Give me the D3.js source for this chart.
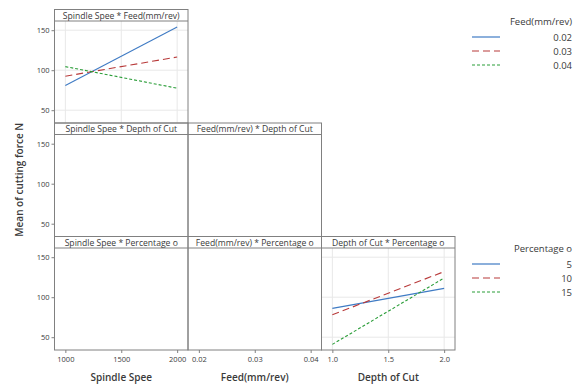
<!DOCTYPE html>
<html>
<head>
<meta charset="utf-8">
<script src="https://cdn.jsdelivr.net/npm/d3@7"></script>
<style>
  body { margin: 0; background: #fff; }
  text { font-family: "Open Sans", "Noto Sans", sans-serif; fill: #3a3a3a; }
</style>
</head>
<body>
<div id="container"></div>
<script>
/**
 * DATA
 * */
const factors = ["Spindle Spee", "Feed(mm/rev)", "Depth of Cut", "Percentage o"];
const factorLevels = [[1000, 2000], [0.02, 0.04], [1.0, 2.0]];
const factorTicks = [[1000, 1500, 2000], [0.02, 0.03, 0.04], [1.0, 1.5, 2.0]];
const tickFormats = [d3.format("d"), d3.format(".2f"), d3.format(".1f")];
const yTicks = [50, 100, 150];

// Spindle Spee * Feed(mm/rev)
const feedLevels = ["0.02", "0.03", "0.04"];
const speedByFeed = [[81, 154], [92.5, 116.5], [104.5, 77.5]];

// Depth of Cut * Percentage o
const pctLevels = ["5", "10", "15"];
const depthByPct = [[86, 111], [78, 132], [41, 124]];

/**
 * CONSTANTS
 * */
const width = 574, height = 385;
const gridLeft = 54.5, gridTop = 9.5;
const cellW = 133.5, cellH = 113.5, headH = 11.5;
const colors = ["#3f7bc4", "#b83a3a", "#2a9d38"];
const dashes = [null, "7,4", "3,2"];

const svg = d3.select("#container")
  .append("svg")
  .attr("width", width)
  .attr("height", height);

const y = d3.scaleLinear()
  .domain([34, 161.5])
  .range([cellH, headH]);

const xScale = i => {
  const [a, b] = factorLevels[i];
  const pad = (b - a) * 0.097;
  return d3.scaleLinear().domain([a - pad, b + pad]).range([0, cellW]);
};

// panels: lower triangle, row r shows factor c vs trace factor r+1
const panels = [];
for (let r = 0; r < 3; r++) {
  for (let c = 0; c <= r; c++) {
    panels.push({ r, c });
  }
}

panels.forEach(p => {
  const g = svg.append("g")
    .attr("transform", `translate(${gridLeft + p.c * cellW},${gridTop + p.r * cellH})`);
  const x = xScale(p.c);

  let series = null;
  if (p.r === 0 && p.c === 0) series = speedByFeed;
  if (p.r === 2 && p.c === 2) series = depthByPct;

  if (series) {
    // grid
    g.selectAll(".gx").data(factorTicks[p.c]).join("line")
      .attr("x1", d => x(d)).attr("x2", d => x(d))
      .attr("y1", headH).attr("y2", cellH)
      .attr("stroke", "#e8e8e8");
    g.selectAll(".gy").data(yTicks).join("line")
      .attr("x1", 0).attr("x2", cellW)
      .attr("y1", d => y(d)).attr("y2", d => y(d))
      .attr("stroke", "#e8e8e8");

    const line = d3.line()
      .x((d, i) => x(factorLevels[p.c][i]))
      .y(d => y(d));
    g.selectAll(".ser").data(series).join("path")
      .attr("d", d => line(d))
      .attr("fill", "none")
      .attr("stroke", (d, i) => colors[i])
      .attr("stroke-width", 1.1)
      .attr("stroke-dasharray", (d, i) => dashes[i]);
  }

  g.append("rect")
    .attr("width", cellW).attr("height", cellH)
    .attr("fill", "none").attr("stroke", "#808080");
  g.append("line")
    .attr("x1", 0).attr("x2", cellW)
    .attr("y1", headH).attr("y2", headH)
    .attr("stroke", "#808080");
  g.append("text")
    .attr("x", cellW / 2).attr("y", headH - 2.3)
    .attr("text-anchor", "middle")
    .attr("font-size", 8.6)
    .text(`${factors[p.c]} * ${factors[p.r + 1]}`);

  // y axis on first column
  if (p.c === 0) {
    g.append("g")
      .call(d3.axisLeft(y).tickValues(yTicks).tickSize(3).tickPadding(2))
      .call(a => a.select(".domain").remove())
      .call(a => a.selectAll("line").attr("stroke", "#808080"))
      .call(a => a.selectAll("text").attr("font-size", 7.5).style("fill", "#3a3a3a"));
  }
  // x axis on bottom row
  if (p.r === 2) {
    g.append("g")
      .attr("transform", `translate(0,${cellH})`)
      .call(d3.axisBottom(x).tickValues(factorTicks[p.c]).tickFormat(tickFormats[p.c]).tickSize(3).tickPadding(4))
      .call(a => a.select(".domain").remove())
      .call(a => a.selectAll("line").attr("stroke", "#808080"))
      .call(a => a.selectAll("text").attr("font-size", 7.5).style("fill", "#3a3a3a"));
    g.append("text")
      .attr("x", cellW / 2).attr("y", cellH + 31)
      .attr("text-anchor", "middle")
      .attr("font-size", 10)
      .attr("font-weight", 600)
      .text(factors[p.c]);
  }
});

// y axis title
svg.append("text")
  .attr("transform", `translate(23,${gridTop + 1.5 * cellH}) rotate(-90)`)
  .attr("text-anchor", "middle")
  .attr("font-size", 10)
  .attr("font-weight", 600)
  .text("Mean of cutting force N");

// legends
const legend = (title, labels, y0) => {
  const lg = svg.append("g");
  lg.append("text")
    .attr("x", 572).attr("y", y0)
    .attr("text-anchor", "end")
    .attr("font-size", 9.5)
    .text(title);
  labels.forEach((l, i) => {
    const yy = y0 + 12 + i * 14;
    lg.append("line")
      .attr("x1", 472).attr("x2", 500)
      .attr("y1", yy).attr("y2", yy)
      .attr("stroke", colors[i])
      .attr("stroke-width", 1.2)
      .attr("stroke-dasharray", dashes[i]);
    lg.append("text")
      .attr("x", 572).attr("y", yy + 3.5)
      .attr("text-anchor", "end")
      .attr("font-size", 9.5)
      .text(l);
  });
};
legend("Feed(mm/rev)", feedLevels, 25);
legend("Percentage o", pctLevels, 252);
</script>
</body>
</html>
